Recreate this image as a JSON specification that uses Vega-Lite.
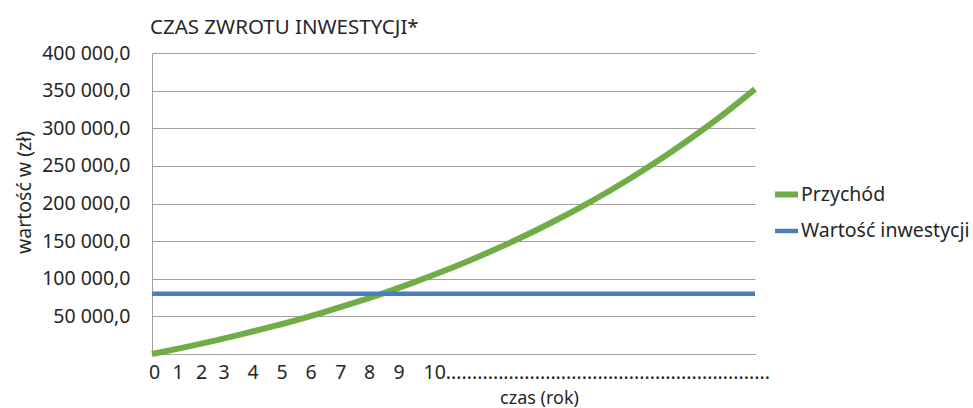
{
  "$schema": "https://vega.github.io/schema/vega-lite/v6.json",
  "width": 603,
  "height": 301,
  "autosize": {"type": "none"},
  "padding": {"left": 152, "top": 53, "right": 218, "bottom": 54},
  "background": "white",
  "title": {"text": "CZAS ZWROTU INWESTYCJI*", "anchor": "start", "frame": "group", "fontSize": 20.5, "font": "Noto Sans", "fontWeight": "normal", "color": "#262626", "offset": 5, "dx": -2},
  "data": {"values": [
    {"t": 0, "v": 0, "seria": "Przychód"},
    {"t": 1, "v": 7800, "seria": "Przychód"},
    {"t": 2, "v": 16100, "seria": "Przychód"},
    {"t": 3, "v": 25000, "seria": "Przychód"},
    {"t": 4, "v": 34600, "seria": "Przychód"},
    {"t": 5, "v": 44800, "seria": "Przychód"},
    {"t": 6, "v": 55800, "seria": "Przychód"},
    {"t": 7, "v": 67500, "seria": "Przychód"},
    {"t": 8, "v": 80000, "seria": "Przychód"},
    {"t": 9, "v": 93500, "seria": "Przychód"},
    {"t": 10, "v": 107900, "seria": "Przychód"},
    {"t": 11, "v": 123300, "seria": "Przychód"},
    {"t": 12, "v": 139800, "seria": "Przychód"},
    {"t": 13, "v": 157400, "seria": "Przychód"},
    {"t": 14, "v": 176400, "seria": "Przychód"},
    {"t": 15, "v": 196600, "seria": "Przychód"},
    {"t": 16, "v": 218300, "seria": "Przychód"},
    {"t": 17, "v": 241500, "seria": "Przychód"},
    {"t": 18, "v": 266400, "seria": "Przychód"},
    {"t": 19, "v": 293000, "seria": "Przychód"},
    {"t": 20, "v": 321500, "seria": "Przychód"},
    {"t": 21, "v": 352000, "seria": "Przychód"},
    {"t": 0, "v": 80000, "seria": "Wartość inwestycji"},
    {"t": 7, "v": 80000, "seria": "Wartość inwestycji"},
    {"t": 14, "v": 80000, "seria": "Wartość inwestycji"},
    {"t": 21, "v": 80000, "seria": "Wartość inwestycji"}
  ]},
  "mark": {"type": "line", "interpolate": "monotone", "strokeCap": "butt"},
  "encoding": {
    "x": {
      "field": "t", "type": "quantitative",
      "scale": {"domain": [0, 21], "nice": false, "zero": false},
      "axis": {
        "title": "czas (rok)",
        "values": [0.07, 0.89, 1.71, 2.49, 3.5, 4.51, 5.52, 6.56, 7.56, 8.59, 9.44],
        "labelExpr": "datum.value > 9 ? '10..............................................................' : toString(floor(datum.value + 0.55))",
        "labelAlign": {"condition": {"test": "datum.value > 9", "value": "left"}, "value": "center"},
        "labelLimit": 500,
        "labelFlush": false,
        "labelOverlap": false,
        "grid": false,
        "ticks": false,
        "domainColor": "#a0a0a0",
        "labelFontSize": 19.5,
        "labelFont": "Noto Sans",
        "labelColor": "#262626",
        "labelBaseline": "alphabetic",
        "labelPadding": 24,
        "titleX": 387,
        "titleY": 49,
        "titleBaseline": "alphabetic",
        "titleAlign": "center",
        "titleFontSize": 18,
        "titleFontWeight": "normal",
        "titleFont": "Noto Sans",
        "titleColor": "#262626"
      }
    },
    "y": {
      "field": "v", "type": "quantitative",
      "scale": {"domain": [0, 400000], "nice": false},
      "axis": {
        "title": "wartość w (zł)",
        "values": [0, 50000, 100000, 150000, 200000, 250000, 300000, 350000, 400000],
        "labelExpr": "datum.value == 0 ? '' : replace(replace(format(datum.value, ',.1f'), ',', ' '), '.', ',')",
        "grid": true,
        "gridColor": "#a0a0a0",
        "ticks": false,
        "domainColor": "#a0a0a0",
        "labelPadding": 22,
        "labelFontSize": 19.5,
        "labelFont": "Noto Sans",
        "labelColor": "#262626",
        "labelBaseline": "middle",
        "titleX": -122,
        "titleY": 139,
        "titleAngle": -90,
        "titleAlign": "center",
        "titleBaseline": "alphabetic",
        "titleFontSize": 19.5,
        "titleFontWeight": "normal",
        "titleFont": "Noto Sans",
        "titleColor": "#262626"
      }
    },
    "color": {
      "field": "seria", "type": "nominal",
      "scale": {"domain": ["Przychód", "Wartość inwestycji"], "range": ["#70AD47", "#4A7EBB"]},
      "legend": {
        "title": null,
        "orient": "none",
        "legendX": 620,
        "legendY": 127,
        "symbolType": "stroke",
        "symbolSize": 529,
        "symbolStrokeWidth": 3.5,
        "labelFontSize": 19.5,
        "labelFont": "Noto Sans",
        "labelColor": "#262626",
        "labelOffset": 0,
        "rowPadding": 10,
        "labelLimit": 300
      }
    },
    "strokeWidth": {
      "field": "seria", "type": "nominal",
      "scale": {"domain": ["Przychód", "Wartość inwestycji"], "range": [6, 4.5]},
      "legend": null
    }
  },
  "config": {"view": {"stroke": null}}
}
